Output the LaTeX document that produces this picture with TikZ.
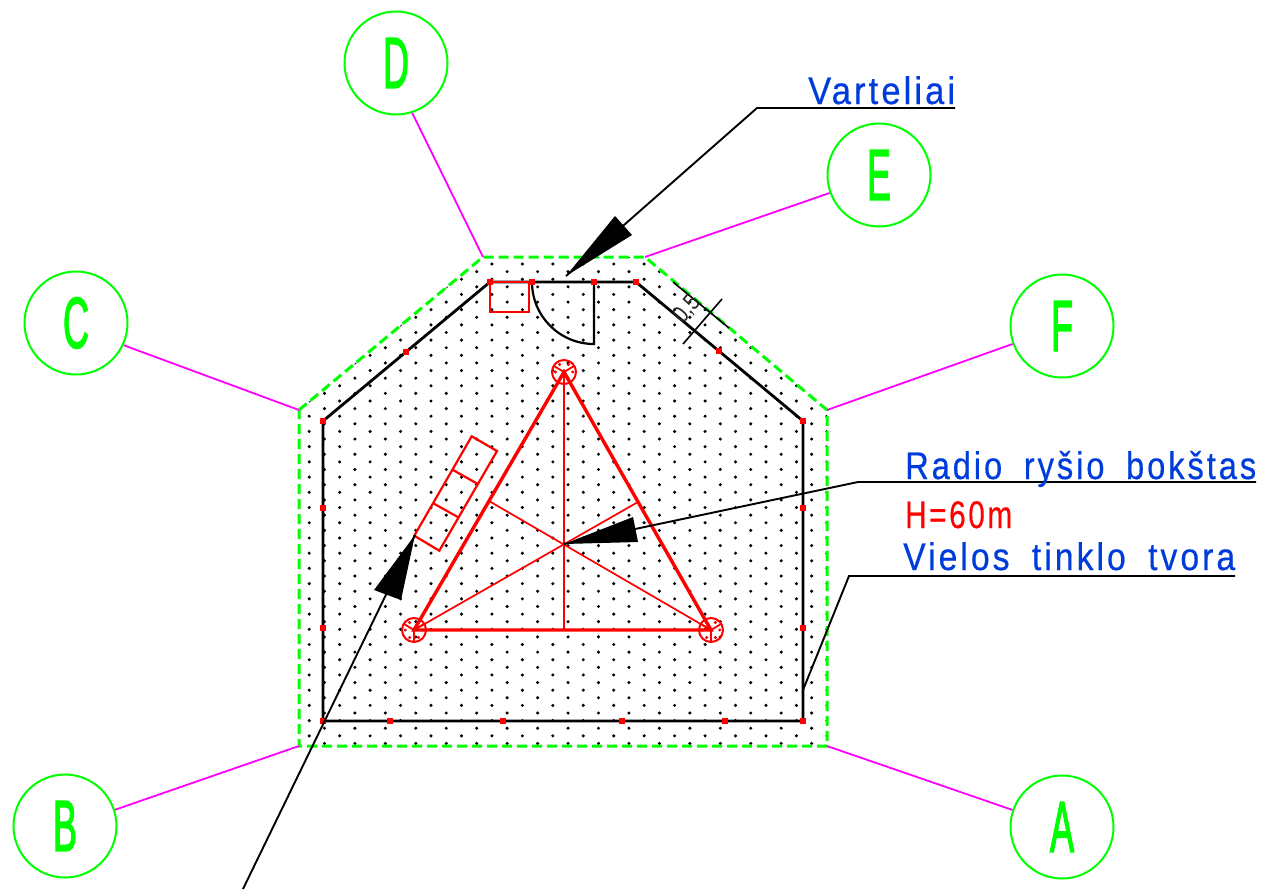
\documentclass[tikz,border=0pt]{standalone}
\usepackage{fontspec}
\setmainfont{Liberation Sans}
\newfontfamily\cadfont[LetterSpace=9,WordSpace=1.8,FakeBold=0.5]{Liberation Sans}
\newfontfamily\letterfont[FakeBold=2.5]{Liberation Sans}
\definecolor{cadgreen}{RGB}{0,255,0}
\definecolor{cadblue}{RGB}{0,60,220}
\definecolor{cadred}{RGB}{255,0,0}
\definecolor{cadmag}{RGB}{255,0,255}
\tikzset{
 fence/.style={black,line width=2.8pt},
 outer/.style={cadgreen,line width=3pt,dash pattern=on 10pt off 5pt},
 tie/.style={cadmag,line width=1.8pt},
 lead/.style={black,line width=1.9pt},
 thickred/.style={cadred,line width=3.4pt},
 thinred/.style={cadred,line width=1.7pt},
 letter/.style={circle,draw=cadgreen,line width=2pt,minimum size=103pt,inner sep=0pt,text=cadgreen},
 label/.style={inner sep=0pt,anchor=base west,font=\fontsize{38.5}{38.5}\selectfont\cadfont},
}
\newcommand{\bigletter}[1]{\scalebox{0.5}[1]{\fontsize{72}{72}\selectfont\letterfont #1}}
\newcommand{\fitw}[2]{\resizebox{#1pt}{\height}{#2}}
\newcommand{\mast}[1]{%
 \draw[cadred,line width=2pt] (#1) circle[radius=12];
 \draw[cadred,line width=1.8pt] (#1) -- ++(0,11) (#1) -- ++(10,-6) (#1) -- ++(-10,-6);
 \foreach \a in {0,60,120,180,240,300}{\fill[cadred] (#1) ++(\a:8.7) circle[radius=1.7];}
}
\begin{document}
\begin{tikzpicture}[x=1pt,y=-1pt]
\useasboundingbox (0,0) rectangle (1271,889);
\fill[white] (0,0) rectangle (1271,889);
% dots
\begin{scope}
\clip (299,410) -- (483,257) -- (645,257) -- (827,410) -- (827,748) -- (299,748) -- cycle;
\foreach \r in {0,...,65}{
 \pgfmathsetmacro{\yy}{256.4+7.61*\r}
 \pgfmathsetmacro{\off}{mod(\r,2)==0 ? 0 : 15.22}
 \foreach \c in {0,...,18}{
  \fill[black] ({294.0+\off+30.45*\c},\yy) circle[radius=1.7];
 }
}
\end{scope}
% named points
\coordinate (g1) at (299,410); \coordinate (g2) at (483,257); \coordinate (g3) at (645,257);
\coordinate (g4) at (827,410); \coordinate (g5) at (827,746); \coordinate (g6) at (299,746);
\coordinate (mt) at (564,372); \coordinate (ml) at (414,630); \coordinate (mr) at (711,630);
\coordinate (cen) at (564,544);
% outer dashed
\draw[outer] (g1) -- (g2) -- (g3) -- (g4) -- (g5) -- (g6) -- cycle;
% fence
\draw[fence] (323,421) -- (490,282) -- (636,282) -- (803,421) -- (803,721) -- (323,721) -- cycle;
% gate
\draw[black,line width=2.2pt] (532,282) arc[start angle=180,end angle=90,radius=62] -- (594,282);
% red box
\draw[cadred,line width=2.4pt] (490,282) rectangle (529,312);
% posts
\foreach \p in {(323,421),(406,352),(490,282),(532,282),(594,282),(636,282),(719,351),(803,421),(803,508),(803,628),(803,721),(725,721),(622,721),(503,721),(390,721),(323,721),(323,628),(323,508)}{
 \fill[cadred] \p ++(-3,-3) rectangle ++(6,6);
}
% tower
\draw[thickred] (mt) -- (ml) -- (mr) -- cycle;
\draw[thinred] (mt) -- (564,630) (ml) -- (638,502) (mr) -- (489,501);
\mast{mt}\mast{ml}\mast{mr}
% panel
\draw[cadred,line width=2.2pt] (471.7,436.3) -- (497,451) -- (439.3,550.7) -- (414.3,535.7) -- cycle
 (453,470) -- (477.3,483.7) (433.3,503.3) -- (458.3,517.3);
% dimension
\draw[black,line width=1.6pt] (673,282) -- (729,328) (722,299) -- (683,344);
\node[rotate=50,inner sep=0pt,text=black!85,font=\fontsize{24}{24}\selectfont] (dimtxt) at (687,309) {\scalebox{0.85}[1]{0,5}};
% ties
\node[letter] (A) at (1062,827) {\bigletter{A}};
\node[letter] (B) at (65,826) {\bigletter{B}};
\node[letter] (C) at (76,323) {\bigletter{C}};
\node[letter] (D) at (396,63) {\bigletter{D}};
\node[letter] (E) at (879,175) {\bigletter{E}};
\node[letter] (F) at (1062,326) {\bigletter{F}};
\draw[tie] (A.161) -- (g5); \draw[tie] (B.18) -- (g6); \draw[tie] (C.-25) -- (g1);
\draw[tie] (D.-72) -- (g2); \draw[tie] (E.200) -- (g3); \draw[tie] (F.200) -- (g4);
% leaders
\coordinate (v1) at (955,108); \coordinate (v2) at (757,108); \coordinate (vt) at (566,276);
\coordinate (r1) at (1256,482); \coordinate (r2) at (858,482);
\coordinate (t1) at (1235,576); \coordinate (t2) at (849,576); \coordinate (t3) at (803,690);
\coordinate (pt) at (415,535); \coordinate (pe) at (243,889);
\draw[lead] (v1) -- (v2) -- (vt);
\draw[lead] (r1) -- (r2) -- (cen);
\draw[lead] (t1) -- (t2) -- (t3);
\draw[lead] (pe) -- (pt);
\fill[black] (vt) -- (632,235) -- (615,216) -- cycle;
\fill[black] (cen) -- (638,542) -- (633,517) -- cycle;
\fill[black] (pt) -- (401,600) -- (374,590) -- cycle;
% labels
\node[label,text=cadblue] (lv) at (808,104) {\fitw{147}{Varteliai}};
\node[label,text=cadblue] (lr) at (905,479) {\fitw{351}{Radio ryšio bokštas}};
\node[label,text=cadred] (lh) at (905,528) {\fitw{107}{H=60m}};
\node[label,text=cadblue] (lt) at (903,570) {\fitw{332}{Vielos tinklo tvora}};
\end{tikzpicture}
\end{document}
